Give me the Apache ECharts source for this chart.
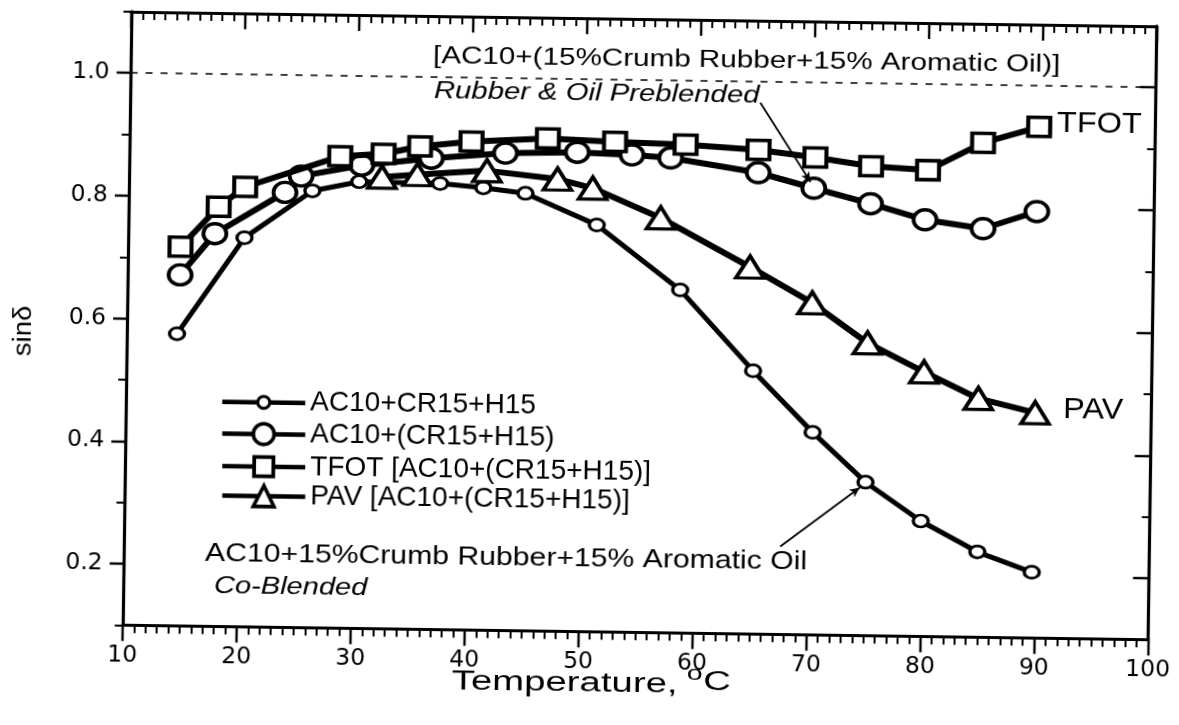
<!DOCTYPE html>
<html><head><meta charset="utf-8">
<script src="https://cdn.jsdelivr.net/npm/echarts@6/dist/echarts.min.js"></script>
<style>
html,body{margin:0;padding:0;background:#fff;overflow:hidden;width:1179px;height:725px;}
#chart{position:absolute;left:0;top:0;width:1179px;height:725px;transform:rotate(0.8136deg);transform-origin:639.8px 325.6px;}
</style></head><body><div id="chart"></div>
<script>
// ---- data ----
const seriesNames = ['AC10+CR15+H15', 'AC10+(CR15+H15)', 'TFOT [AC10+(CR15+H15)]', 'PAV [AC10+(CR15+H15)]'];
const temps1 = [14.4, 20.2, 26.1, 30.2, 37.3, 41.1, 44.8, 51.1, 58.5, 65.0, 70.3, 75.0, 79.9, 84.9, 89.7];
const sin1   = [0.576, 0.734, 0.812, 0.828, 0.827, 0.821, 0.813, 0.763, 0.659, 0.529, 0.430, 0.350, 0.288, 0.239, 0.207];
const temps2 = [14.6, 17.6, 23.7, 25.1, 30.4, 36.5, 43.0, 49.3, 54.1, 57.5, 65.2, 70.1, 75.1, 79.9, 85.0, 89.7];
const sin2   = [0.672, 0.740, 0.809, 0.836, 0.855, 0.868, 0.878, 0.881, 0.878, 0.874, 0.852, 0.828, 0.804, 0.779, 0.766, 0.795];
const temps3 = [14.6, 17.9, 20.2, 28.5, 32.3, 35.5, 40.0, 46.7, 52.6, 58.8, 65.2, 70.2, 75.1, 80.1, 84.9, 89.8];
const sin3   = [0.718, 0.784, 0.817, 0.869, 0.874, 0.887, 0.896, 0.903, 0.899, 0.896, 0.889, 0.878, 0.865, 0.860, 0.906, 0.933];
const temps4 = [32.2, 35.3, 41.4, 47.6, 50.7, 56.7, 64.6, 70.1, 75.0, 80.0, 84.8, 89.8];
const sin4   = [0.836, 0.841, 0.849, 0.837, 0.823, 0.776, 0.698, 0.641, 0.577, 0.531, 0.489, 0.467];
const yTickLabels = [0.2, 0.4, 0.6, 0.8, 1.0];
const yMinorTicks = [0.1, 0.3, 0.5, 0.7, 0.9, 1.1];
const refLine = 1.0;
const arrowPreblended = [[65.3, 0.966], [69.8, 0.838]];
const arrowCoblended  = [[67.6, 0.243], [74.5, 0.341]];

// ---- layout helpers ----
const FONT = '"Liberation Sans", Arial, Helvetica, sans-serif';
const TICKFONT = '"DejaVu Sans", "Liberation Sans", sans-serif';
const TH = 0.0142, CX = 639.8, CY = 325.6;
function unrot(x, y) {
  const dx = x - CX, dy = y - CY;
  return [CX + dx * Math.cos(TH) + dy * Math.sin(TH), CY - dx * Math.sin(TH) + dy * Math.cos(TH)];
}
function txt(text, sx, sy, size, scaleX, italic, rot) {
  const p = unrot(sx, sy);
  const el = {
    type: 'text', x: p[0], y: p[1], scaleX: scaleX, silent: true,
    style: {
      text: text, fill: '#000', fontSize: size, fontFamily: FONT,
      fontStyle: italic ? 'italic' : 'normal',
      align: rot ? 'center' : 'left', verticalAlign: 'middle',
      textAlign: rot ? 'center' : 'left', textVerticalAlign: 'middle'
    }
  };
  if (rot) el.rotation = rot;
  return el;
}

const chart = echarts.init(document.getElementById('chart'), null, {renderer: 'canvas'});

const symbols = ['circle', 'circle', 'rect', 'triangle'];
const symSizes = [[15, 12], [23, 20], [22, 19], [28, 22]];
const lineW = [5, 6, 6, 6];
const borderW = [3, 3.6, 3.8, 3.6];
const tempsAll = [temps1, temps2, temps3, temps4];
const sinAll = [sin1, sin2, sin3, sin4];

const series = seriesNames.map((name, i) => ({
  name: name, type: 'line', xAxisIndex: 0, yAxisIndex: 0,
  data: tempsAll[i].map((t, k) => [t, sinAll[i][k]]),
  symbol: symbols[i], symbolSize: symSizes[i], showSymbol: true,
  lineStyle: {color: '#000', width: lineW[i]},
  itemStyle: {color: '#fff', borderColor: '#000', borderWidth: borderW[i]},
  emphasis: {disabled: true}, z: 2 + i, animation: false
}));
series[0].markLine = {
  silent: true, animation: false, symbol: ['none', 'none'],
  label: {show: false},
  data: [
    {yAxis: refLine, lineStyle: {type: [7, 8], width: 1.5, color: '#000'}},
    [{coord: arrowPreblended[0], symbol: 'none'}, {coord: arrowPreblended[1], symbol: 'arrow', symbolSize: [7, 10], lineStyle: {type: 'solid', width: 1.8, color: '#000'}}],
    [{coord: arrowCoblended[0], symbol: 'none'}, {coord: arrowCoblended[1], symbol: 'arrow', symbolSize: [7, 10], lineStyle: {type: 'solid', width: 1.8, color: '#000'}}]
  ],
  lineStyle: {color: '#000', width: 1.8, type: 'solid'}
};

const legendRows = [401.7, 433.5, 466, 495.5];
const legendH = [15, 26, 24, 26];
const LH = 30;
const legends = seriesNames.map((n, i) => {
  const p = unrot(220, legendRows[i]);
  return {
    show: true, data: [n], orient: 'vertical', left: p[0], top: p[1] - Math.max(legendH[i], LH) / 2,
    padding: 0, itemWidth: 83, itemHeight: legendH[i], itemGap: 0, selectedMode: false,
    lineStyle: {width: 4.5, color: '#000'},
    itemStyle: {color: '#fff', borderColor: '#000', borderWidth: borderW[i]},
    textStyle: {fontSize: 28, lineHeight: LH, color: '#000', fontFamily: FONT}
  };
});

const axisLineStyle = {show: true, lineStyle: {color: '#000', width: 3.2}};
const xBase = {
  type: 'value', min: 10, max: 100, interval: 10, splitLine: {show: false},
  axisLine: axisLineStyle,
  minorTick: {show: true, splitNumber: 10, length: 8, lineStyle: {color: '#000', width: 2}},
  minorSplitLine: {show: false}
};

const option = {
  animation: false,
  backgroundColor: '#fff',
  textStyle: {fontFamily: FONT},
  grid: {left: 127.05, top: 18.9, width: 1025.5, height: 613.4, containLabel: false, outerBoundsMode: 'none'},
  legend: legends,
  xAxis: [
    Object.assign({}, xBase, {
      position: 'bottom',
      axisTick: {show: true, inside: false, length: 16, lineStyle: {color: '#000', width: 2.4}},
      axisLabel: {show: true, fontSize: 23.5, color: '#000', fontFamily: TICKFONT, margin: 19}
    }),
    Object.assign({}, xBase, {
      position: 'top',
      axisTick: {show: true, inside: true, length: 16, lineStyle: {color: '#000', width: 2.4}},
      axisLabel: {show: false}
    })
  ],
  yAxis: [
    {
      type: 'value', position: 'left', min: 0.1, max: 1.1, splitLine: {show: false},
      axisLine: axisLineStyle,
      axisTick: {show: true, inside: false, length: 14, customValues: yTickLabels, lineStyle: {color: '#000', width: 2.4}},
      axisLabel: {show: true, customValues: yTickLabels, fontSize: 23.5, color: '#000', fontFamily: TICKFONT, margin: 21,
        padding: [0, 0, 7, 0], formatter: v => Number(v).toFixed(1)}
    },
    {
      type: 'value', position: 'left', min: 0.1, max: 1.1, splitLine: {show: false},
      axisLine: {show: false},
      axisTick: {show: true, inside: false, length: 8, customValues: yMinorTicks, lineStyle: {color: '#000', width: 2}},
      axisLabel: {show: false}
    },
    {
      type: 'value', position: 'right', min: 0.1, max: 1.1, splitLine: {show: false},
      axisLine: axisLineStyle,
      axisTick: {show: true, inside: true, length: 16, customValues: yTickLabels, lineStyle: {color: '#000', width: 2.4}},
      axisLabel: {show: false}
    },
    {
      type: 'value', position: 'right', min: 0.1, max: 1.1, splitLine: {show: false},
      axisLine: {show: false},
      axisTick: {show: true, inside: true, length: 8, customValues: yMinorTicks, lineStyle: {color: '#000', width: 2}},
      axisLabel: {show: false}
    }
  ],
  series: series,
  graphic: {elements: [
    txt('[AC10+(15%Crumb Rubber+15% Aromatic Oil)]', 433, 56.5, 23, 1.288, false),
    txt('Rubber & Oil Preblended', 434, 91, 24, 1.22, true),
    txt('AC10+15%Crumb Rubber+15% Aromatic Oil', 205, 554, 25, 1.207, false),
    txt('Co-Blended', 214, 586.5, 24, 1.21, true),
    txt('TFOT', 1057, 123.7, 29, 1.12, false),
    txt('PAV', 1063, 410.5, 29, 1.12, false),
    txt('Temperature, ', 451.7, 682, 27, 1.42, false),
    txt('o', 686.7, 674.3, 20, 1.42, false),
    txt('C', 703.3, 682.5, 27, 1.42, false),
    txt('sin\u03b4', 24, 331, 25, 1.1, false, Math.PI / 2)
  ]}
};
chart.setOption(option);
</script>
</body></html>
